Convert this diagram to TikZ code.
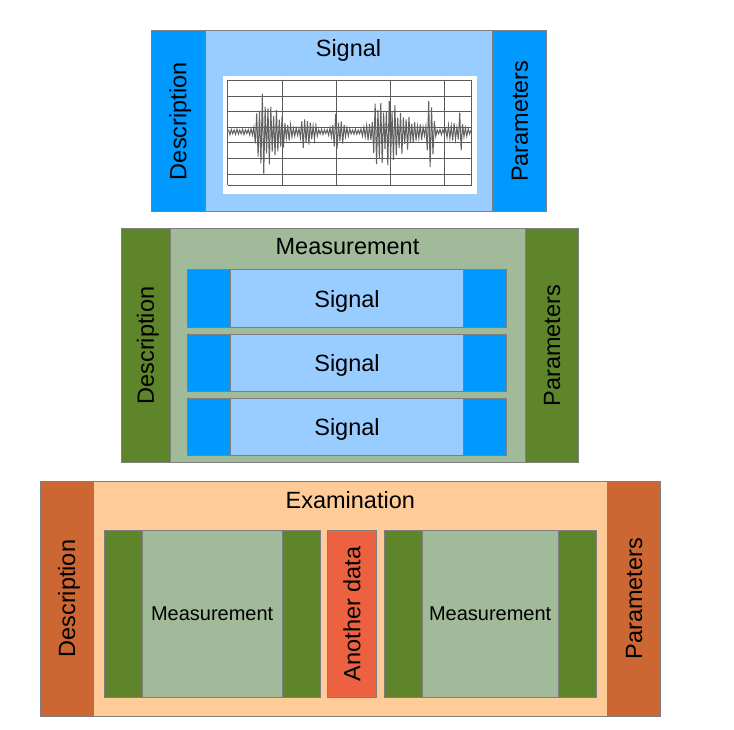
\documentclass[tikz,border=0pt]{standalone}
\usepackage{fontspec}
\setmainfont{Liberation Sans}
\usetikzlibrary{fit}
\definecolor{bd}{HTML}{7F7F7F}
\definecolor{blueD}{HTML}{0099FF}
\definecolor{blueL}{HTML}{99CCFF}
\definecolor{greenD}{HTML}{5E8529}
\definecolor{greenL}{HTML}{A1BB9A}
\definecolor{orangeD}{HTML}{CC6633}
\definecolor{peach}{HTML}{FFCC99}
\definecolor{redA}{HTML}{EC6240}
\definecolor{gridc}{HTML}{5A5A5A}
\tikzset{
  cell/.style={draw=bd, line width=1pt, inner sep=0pt, outer sep=0pt},
  lbl/.style={font=\fontsize{23.5}{28}\selectfont, inner sep=0pt, text height=16.8pt, text depth=0pt},
  slbl/.style={font=\fontsize{20}{24}\selectfont, inner sep=0pt, text height=14.3pt, text depth=0pt},
  gridline/.style={draw=gridc, line width=0.8pt},
  wave/.style={draw=black!62, line width=1pt, line join=miter},
  declare function={
    g(\t,\c,\w)=exp(-1*pow(min(abs((\t-\c)/\w),4),2));
    env(\t)=2.6+30*g(\t,261,5)+24*g(\t,270,8)+12*g(\t,281,6)+4*g(\t,291,4)
      +14*g(\t,305,4.5)+6*g(\t,313,4)+15*g(\t,336,4)+7*g(\t,343,4)+5*g(\t,366,3)
      +32*g(\t,378,6)+28*g(\t,390,6)+16*g(\t,400,7)+10*g(\t,410,6)+5*g(\t,420,5)
      +42*g(\t,430.5,3)+7*g(\t,452,5)+6*g(\t,462,4)+14*g(\t,460,1.5);
    kk(\t)=round((\t-228.5)/1.41);
    sg(\t)=cos(mod(kk(\t),2)*180);
    am(\t)=0.8+0.2*sin(kk(\t)*77);
  }
}
\begin{document}
\begin{tikzpicture}[x=1pt,y=-1pt]
\useasboundingbox (0,0) rectangle (734,730);

% ---------------- Top: Signal ----------------
\node[cell, fill=blueL, fit={(205,30.5) (492.7,212)}] (bodyT) {};
\node[cell, fill=blueD, fit={(151,30.5) (205,212)}] (descT) {};
\node[cell, fill=blueD, fit={(492.7,30.5) (546,212)}] (parT) {};
\node[lbl, rotate=90] (descTl) at (descT.center) {Description};
\node[lbl, rotate=90] (parTl) at (parT.center) {Parameters};
\node[lbl] (titleT) at (348.5,48.1) {Signal};
\node[fill=white, inner sep=0pt, fit={(222.7,76.3) (476.7,193.7)}] (img) {};
\foreach \gx in {227.7,282.7,336,390.7,444.3,471.7}
  \draw[gridline] (\gx,80) -- (\gx,185);
\foreach \gy in {80,96,111.7,127.3,142.7,158.3,174.3,185}
  \draw[gridline] (227.7,\gy) -- (471.7,\gy);
\draw[wave] plot[domain=228.5:471.02, samples=173]
  (\x, {131.7 - sg(\x)*env(\x)*am(\x)*(1.075-0.075*sg(\x))});

% ---------------- Middle: Measurement ----------------
\node[cell, fill=greenL, fit={(170,228.5) (525,462.7)}] (bodyM) {};
\node[cell, fill=greenD, fit={(121,228.5) (170,462.7)}] (descM) {};
\node[cell, fill=greenD, fit={(525,228.5) (578.3,462.7)}] (parM) {};
\node[lbl, rotate=90] (descMl) at (descM.center) {Description};
\node[lbl, rotate=90] (parMl) at (parM.center) {Parameters};
\node[lbl] (titleM) at (347.5,246.6) {Measurement};
\foreach \i/\ya/\yb in {1/270/327.3, 2/334.3/391, 3/398.3/455} {
  \node[cell, fill=blueL, fit={(230.7,\ya) (463.3,\yb)}] (sig\i) {};
  \node[cell, fill=blueD, fit={(187.7,\ya) (230.7,\yb)}] (sigL\i) {};
  \node[cell, fill=blueD, fit={(463.3,\ya) (506.7,\yb)}] (sigR\i) {};
  \node[lbl] (sigt\i) at (sig\i.center) {Signal};
}

% ---------------- Bottom: Examination ----------------
\node[cell, fill=peach, fit={(93.3,481.3) (607.3,716)}] (bodyB) {};
\node[cell, fill=orangeD, fit={(40.3,481.3) (93.3,716)}] (descB) {};
\node[cell, fill=orangeD, fit={(607.3,481.3) (660,716)}] (parB) {};
\node[lbl, rotate=90] (descBl) at (descB.center) {Description};
\node[lbl, rotate=90] (parBl) at (parB.center) {Parameters};
\node[lbl] (titleB) at (350.3,500.3) {Examination};

\node[cell, fill=greenL, fit={(142.3,530.3) (282,697.3)}] (m1) {};
\node[cell, fill=greenD, fit={(104.3,530.3) (142.3,697.3)}] (m1L) {};
\node[cell, fill=greenD, fit={(282,530.3) (320.7,697.3)}] (m1R) {};
\node[slbl] (m1t) at (m1.center) {Measurement};

\node[cell, fill=redA, fit={(327.3,530.3) (376.7,697.3)}] (other) {};
\node[lbl, rotate=90] (othert) at (other.center) {Another data};

\node[cell, fill=greenL, fit={(422,530.3) (558.3,697.3)}] (m2) {};
\node[cell, fill=greenD, fit={(384,530.3) (422,697.3)}] (m2L) {};
\node[cell, fill=greenD, fit={(558.3,530.3) (596.7,697.3)}] (m2R) {};
\node[slbl] (m2t) at (m2.center) {Measurement};
\end{tikzpicture}
\end{document}
